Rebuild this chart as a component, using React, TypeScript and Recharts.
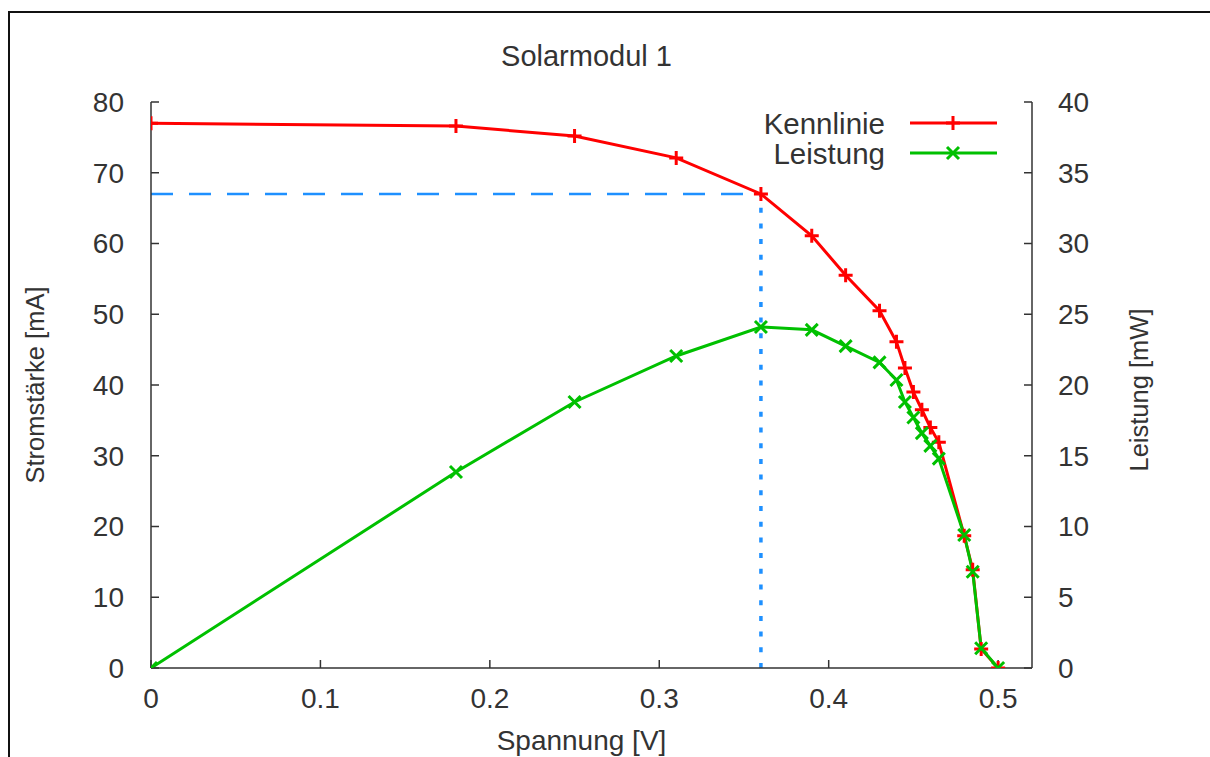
import React from "react";
import { ComposedChart, Line, XAxis, YAxis, ReferenceLine, Legend } from "recharts";

// Messwerte Solarmodul 1
const voltage = [0, 0.18, 0.25, 0.31, 0.36, 0.39, 0.41, 0.43, 0.44, 0.445, 0.45, 0.455, 0.46, 0.465, 0.48, 0.485, 0.49, 0.5];
const current = [77.0, 76.6, 75.2, 72.1, 67.0, 61.1, 55.5, 50.5, 46.1, 42.4, 39.0, 36.5, 34.0, 31.9, 18.7, 13.9, 2.7, 0];
const power = [0, 13.85, 18.8, 22.05, 24.1, 23.9, 22.75, 21.6, 20.35, 18.8, 17.7, 16.6, 15.7, 14.8, 9.4, 6.8, 1.4, 0];

const xTicks = [0, 0.1, 0.2, 0.3, 0.4, 0.5];
const leftTicks = [0, 10, 20, 30, 40, 50, 60, 70, 80];
const rightTicks = [0, 5, 10, 15, 20, 25, 30, 35, 40];

const font = "'Liberation Sans', Arial, sans-serif";
const fontSize = 28;
const textColor = "#333";
const axisColor = "#333";
const red = "#ff0000";
const green = "#00c000";
const blue = "#1e90ff";

const data = voltage.map((v, i) => ({ v, i: current[i], p: power[i] }));
const mpp = power.indexOf(Math.max(...power));

const tickStyle = { fontFamily: font, fontSize, fill: textColor };
const sideStyle = { fontFamily: font, fontSize: 25.5, fill: textColor };
const keyStyle = { fontFamily: font, fontSize: 29.5, fill: textColor };

const plusPath = (x: number, y: number) => `M${x - 7},${y}h14M${x},${y - 7}v14`;
const crossPath = (x: number, y: number) => `M${x - 6},${y - 6}l12,12M${x - 6},${y + 6}l12,-12`;

const PlusDot = (props: any) => {
  const { cx, cy, index } = props;
  if (cx == null || cy == null) return <g key={index} />;
  return <path key={index} d={plusPath(cx, cy)} stroke={red} strokeWidth={3} fill="none" />;
};

const CrossDot = (props: any) => {
  const { cx, cy, index } = props;
  if (cx == null || cy == null) return <g key={index} />;
  return <path key={index} d={crossPath(cx, cy)} stroke={green} strokeWidth={3} fill="none" />;
};

const legendItems = [
  { name: "Kennlinie", color: red, path: plusPath },
  { name: "Leistung", color: green, path: crossPath },
];

const KeyBox = () => (
  <svg width={320} height={64}>
    {legendItems.map((item, n) => {
      const y = 15 + n * 30;
      return (
        <g key={item.name}>
          <text x={185} y={y} textAnchor="end" dominantBaseline="central" style={keyStyle}>
            {item.name}
          </text>
          <line x1={210} x2={297} y1={y} y2={y} stroke={item.color} strokeWidth={3} />
          <path d={item.path(253, y)} stroke={item.color} strokeWidth={3} fill="none" />
        </g>
      );
    })}
  </svg>
);

const sideLabel = (text: string, dx: number, dy: number) => (props: any) => {
  const vb = props.viewBox;
  const cx = vb.x + dx;
  const cy = vb.y + vb.height / 2 + dy;
  return (
    <text
      x={cx}
      y={cy}
      transform={`rotate(-90 ${cx} ${cy})`}
      textAnchor="middle"
      dominantBaseline="central"
      style={sideStyle}
    >
      {text}
    </text>
  );
};

const bottomLabel = (props: any) => {
  const vb = props.viewBox;
  return (
    <text x={vb.x + vb.width / 2 - 10} y={vb.y + 72} textAnchor="middle" dominantBaseline="central" style={tickStyle}>
      Spannung [V]
    </text>
  );
};

export default function App() {
  return (
    <div style={{ position: "absolute", left: 0, top: 0, width: 1210, height: 757, background: "#fff", overflow: "hidden" }}>
      <div
        style={{
          position: "absolute",
          left: 8,
          top: 11,
          width: 1220,
          height: 760,
          borderTop: "2px solid #111",
          borderLeft: "2px solid #111",
        }}
      />
      <div
        style={{
          position: "absolute",
          left: 141,
          top: 40,
          width: 891,
          textAlign: "center",
          fontFamily: font,
          fontSize: 29,
          color: textColor,
        }}
      >
        Solarmodul 1
      </div>
      <ComposedChart
        width={1210}
        height={757}
        data={data}
        margin={{ top: 102, right: 118, left: 91, bottom: 49 }}
        style={{ position: "absolute", left: 0, top: 0 }}
      >
        <XAxis
          dataKey="v"
          type="number"
          domain={[0, 0.52]}
          allowDataOverflow
          ticks={xTicks}
          interval={0}
          height={40}
          tickSize={-8}
          tickMargin={28}
          tick={tickStyle}
          stroke={axisColor}
          strokeWidth={1.5}
          label={{ content: bottomLabel }}
        />
        <XAxis
          xAxisId="top"
          orientation="top"
          dataKey="v"
          type="number"
          domain={[0, 0.52]}
          allowDataOverflow
          ticks={xTicks}
          interval={0}
          height={0}
          tickSize={-8}
          tick={false}
          stroke={axisColor}
          strokeWidth={1.5}
        />
        <YAxis
          yAxisId="left"
          domain={[0, 80]}
          allowDataOverflow
          ticks={leftTicks}
          interval={0}
          width={60}
          tickSize={-8}
          tickMargin={35}
          tick={tickStyle}
          stroke={axisColor}
          strokeWidth={1.5}
          label={{ content: sideLabel("Stromstärke [mA]", -56, 0) }}
        />
        <YAxis
          yAxisId="right"
          orientation="right"
          domain={[0, 40]}
          allowDataOverflow
          ticks={rightTicks}
          interval={0}
          width={60}
          tickSize={-8}
          tickMargin={34}
          tick={{ ...tickStyle, textAnchor: "start" }}
          stroke={axisColor}
          strokeWidth={1.5}
          label={{ content: sideLabel("Leistung [mW]", 107, 5) }}
        />
        <ReferenceLine
          yAxisId="left"
          segment={[
            { x: 0, y: current[mpp] },
            { x: voltage[mpp], y: current[mpp] },
          ]}
          stroke={blue}
          strokeWidth={2.5}
          strokeDasharray="22 16"
        />
        <ReferenceLine
          yAxisId="left"
          segment={[
            { x: voltage[mpp], y: 0 },
            { x: voltage[mpp], y: current[mpp] },
          ]}
          stroke={blue}
          strokeWidth={3.5}
          strokeDasharray="5 10.7"
        />
        <Line
          yAxisId="left"
          type="linear"
          dataKey="i"
          name="Kennlinie"
          stroke={red}
          strokeWidth={3}
          dot={PlusDot}
          activeDot={false}
          isAnimationActive={false}
        />
        <Line
          yAxisId="right"
          type="linear"
          dataKey="p"
          name="Leistung"
          stroke={green}
          strokeWidth={3}
          dot={CrossDot}
          activeDot={false}
          isAnimationActive={false}
        />
        <Legend
          layout="horizontal"
          verticalAlign="middle"
          align="center"
          content={KeyBox}
          wrapperStyle={{ position: "absolute", left: 700, top: 108, width: 320, height: 64 }}
        />
      </ComposedChart>
    </div>
  );
}
